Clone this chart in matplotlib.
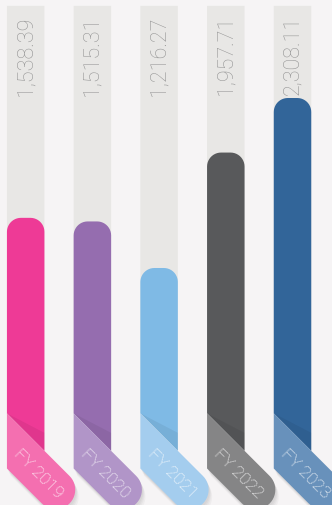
import numpy as np
import matplotlib.pyplot as plt
from matplotlib.patches import Polygon

# data
years = ['FY 2019', 'FY 2020', 'FY 2021', 'FY 2022', 'FY 2023']
values = [1538.39, 1515.31, 1216.27, 1957.71, 2308.11]
bar_colors = ['#ee3a96', '#956daf', '#7fbae5', '#58595b', '#326599']
ribbon_colors = ['#f46fb0', '#b195c8', '#a4cdee', '#858586', '#6891bb']
track_max = 2900

W, H = 332, 506
fig = plt.figure(figsize=(W / 100, H / 100), dpi=100)
fig.patch.set_facecolor('#f6f4f5')
ax = fig.add_axes([0, 0, 1, 1])
ax.set_facecolor('#f6f4f5')
ax.set_xlim(-0.385, 4.592)
ax.set_ylim(-306, 2944)
ax.axis('off')

bar_w = 0.562
fold_px = 44      # fold height above zero line (pixels)
r_top = 14        # corner radius of bar top (pixels)
inv = ax.transData.inverted()

u = np.array([1, -1]) / np.sqrt(2)    # along ribbon (down-right)
n = np.array([-1, -1]) / np.sqrt(2)   # across ribbon (down-left)


def add_px_poly(pts, **kw):
    ax.add_patch(Polygon(inv.transform(np.array(pts)), closed=True, **kw))


for i, (yr, v) in enumerate(zip(years, values)):
    xl, y0 = ax.transData.transform((i - bar_w / 2, 0))
    xr, ytop = ax.transData.transform((i + bar_w / 2, v))
    _, ytrack = ax.transData.transform((i, track_max))
    bw = xr - xl
    yf = y0 + fold_px

    # grey track
    add_px_poly([(xl, ytrack), (xr, ytrack), (xr, yf - bw), (xl, yf)],
                facecolor='#e8e7e5', edgecolor='none', zorder=1)

    # bar with rounded top
    pts = [(xl, yf)]
    for a in np.linspace(np.pi, np.pi / 2, 12):
        pts.append((xl + r_top + r_top * np.cos(a), ytop - r_top + r_top * np.sin(a)))
    for a in np.linspace(np.pi / 2, 0, 12):
        pts.append((xr - r_top + r_top * np.cos(a), ytop - r_top + r_top * np.sin(a)))
    pts.append((xr, yf - bw))
    add_px_poly(pts, facecolor=bar_colors[i], edgecolor='none', zorder=2)

    # slight shade on bar just above the fold
    add_px_poly([(xl, yf), (xr, yf - bw), (xr, yf - bw + 18)],
                facecolor='#000000', edgecolor='none', alpha=0.06, zorder=2.5)

    # folded ribbon
    O = np.array([xl, yf])
    tw = bw + 1.5
    r = tw / 2
    s_end = 108
    C = O + (s_end - r) * u + r * n
    rib = [O]
    for phi in np.linspace(np.pi / 2, -np.pi / 2, 25):
        rib.append(C + r * (np.cos(phi) * u - np.sin(phi) * n))
    rib.append(O + tw * u + tw * n)
    rib = np.array(rib)

    for off in [7, 5, 3.5, 2]:
        add_px_poly(rib + np.array([off * 0.5, -off]), facecolor='#000000',
                    edgecolor='none', alpha=0.03, zorder=3)
    add_px_poly(rib, facecolor=ribbon_colors[i], edgecolor='none', zorder=4)

    tc = inv.transform(O + 64 * u + (tw / 2) * n)
    ax.text(tc[0], tc[1], yr, rotation=-45, rotation_mode='anchor',
            ha='center', va='center', color='white', fontsize=12.5,
            family='Roboto', fontweight='light', zorder=5)

    # value label
    ax.text(i, track_max - 60, f'{v:,.2f}', rotation=90, ha='center', va='top',
            color='#969696', fontsize=15.5, family='Roboto', fontweight='light',
            zorder=5)

fig.savefig('out.png', dpi=100, facecolor=fig.get_facecolor())
